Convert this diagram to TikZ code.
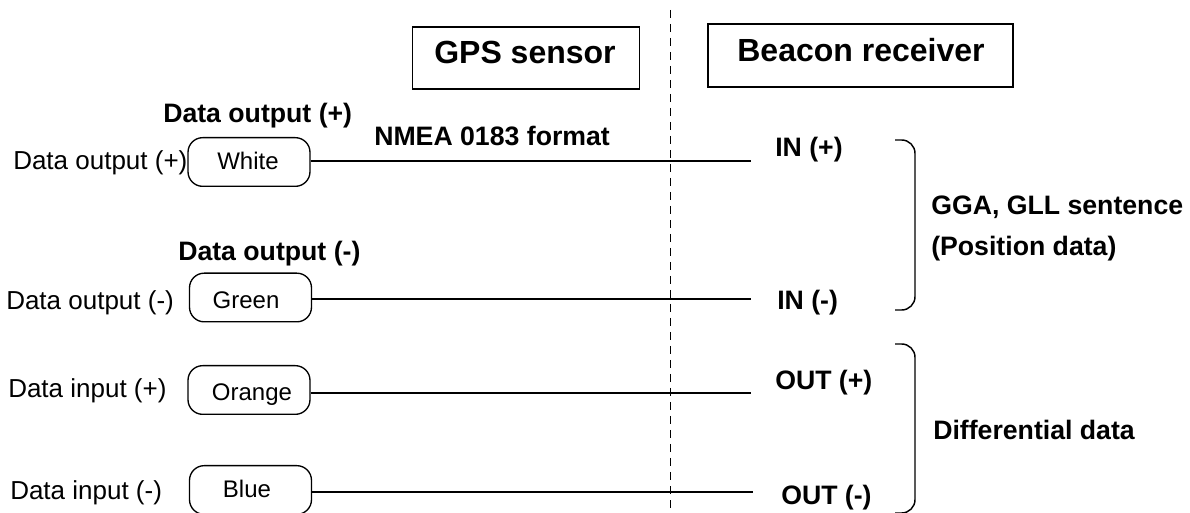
\documentclass[tikz,border=0pt]{standalone}
\usepackage{fontspec}
\setmainfont{Liberation Sans}
\tikzset{
 px/.style={x=0.75pt,y=-0.75pt},
 wirebox/.style={draw,rounded corners=11pt,minimum width=91.5pt,minimum height=36.5pt,inner sep=0pt,line width=1pt},
 wiretext/.style={inner sep=0pt,anchor=base,font=\fontsize{18pt}{22pt}\selectfont},
 titlebox/.style={draw,inner sep=0pt,line width=1.2pt},
 titletext/.style={inner sep=0pt,anchor=base,font=\bfseries\fontsize{24pt}{28pt}\selectfont},
 lab/.style={inner sep=0pt,anchor=base west,font=\fontsize{19.5pt}{23pt}\selectfont},
 blab/.style={inner sep=0pt,anchor=base west,font=\bfseries\fontsize{20pt}{24pt}\selectfont},
 wire/.style={line width=1.3pt},
 brace/.style={line width=1.1pt,rounded corners=10pt},
}
\begin{document}
\begin{tikzpicture}[px]
\useasboundingbox (0,0) rectangle (1190,513);
\node[titlebox,minimum width=170pt,minimum height=46.5pt] (gps) at (526,58) {};
\node[titlebox,minimum width=228.75pt,minimum height=47.25pt] (bcn) at (860.5,55.5) {};
\node[titletext] (gpst) at (525,64) {GPS sensor};
\node[titletext] (bcnt) at (861,62) {Beacon receiver};
\coordinate (dt) at (670.5,10); \coordinate (db) at (670.5,513);
\draw[wire,dash pattern=on 6pt off 4.5pt] (dt) -- (db);
\node[wirebox] (w) at (249,162) {};
\node[wirebox] (gr) at (250.5,297.5) {};
\node[wirebox] (o) at (249,390) {};
\node[wirebox] (bl) at (250.5,490) {};
\node[wiretext] (wt) at (248,170) {White};
\node[wiretext] (grt) at (246,309) {Green};
\node[wiretext] (ot) at (252,401) {Orange};
\node[wiretext] (blt) at (247,498) {Blue};
\coordinate (i1) at (751,161); \coordinate (i2) at (751,299); \coordinate (o1) at (751,393); \coordinate (o2) at (753,492);
\draw[wire] (w.east |- i1) -- (i1);
\draw[wire] (gr.east |- i2) -- (i2);
\draw[wire] (o.east |- o1) -- (o1);
\draw[wire] (bl.east |- o2) -- (o2);
\node[lab] (a) at (13,170) {Data output (+)};
\node[lab] (b) at (6,310) {Data output (-)};
\node[lab] (c) at (8,398) {Data input (+)};
\node[lab] (d) at (10,499) {Data input (-)};
\node[blab] (e) at (163,123) {Data output (+)};
\node[blab] (f) at (178,261) {Data output (-)};
\node[blab] (g) at (374,146) {NMEA 0183 format};
\node[blab] (h) at (775,157) {IN (+)};
\node[blab] (i) at (777,310) {IN (-)};
\node[blab] (j) at (775,390) {OUT (+)};
\node[blab] (k) at (781,504) {OUT (-)};
\node[blab] (l) at (931,215) {GGA, GLL sentence};
\node[blab] (m) at (931,256) {(Position data)};
\node[blab] (n) at (933,440) {Differential data};
\draw[brace] (895,140) -- (915,140) -- (915,310) -- (895,310);
\draw[brace] (895,344) -- (915,344) -- (915,513) -- (895,513);
\end{tikzpicture}
\end{document}
